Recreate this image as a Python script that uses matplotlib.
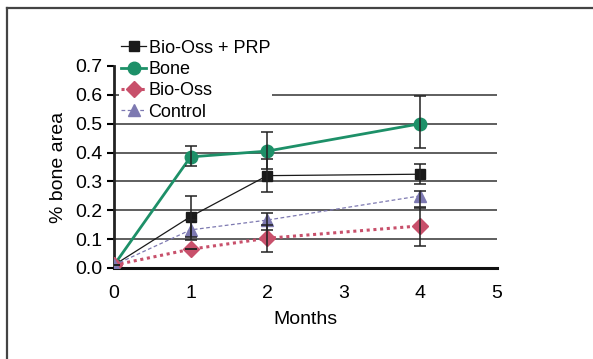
import matplotlib.pyplot as plt
from matplotlib.lines import Line2D

months = [0, 1, 2, 4]

bone = [0.01, 0.385, 0.405, 0.50]
bone_lo = [0, 0.03, 0.062, 0.083]
bone_hi = [0, 0.038, 0.067, 0.096]

bio_prp = [0.01, 0.178, 0.32, 0.325]
bio_prp_lo = [0, 0.07, 0.056, 0.033]
bio_prp_hi = [0, 0.072, 0.056, 0.037]

bio_oss = [0.01, 0.065, 0.103, 0.146]
bio_oss_lo = [0, 0, 0.049, 0.069]
bio_oss_hi = [0, 0, 0.045, 0.062]

control = [0.01, 0.132, 0.166, 0.25]
control_lo = [0, 0.035, 0.035, 0.04]
control_hi = [0, 0.035, 0.024, 0.017]

y_ticks = [0.0, 0.1, 0.2, 0.3, 0.4, 0.5, 0.6, 0.7]
x_ticks = [0, 1, 2, 3, 4, 5]

plt.rcParams['font.family'] = ['Liberation Sans', 'DejaVu Sans']

fig = plt.figure(figsize=(5.93, 3.59), dpi=100)
ax = fig.add_axes([0.1922, 0.2535, 0.6458, 0.5627])

# grid lines except the top one
for y in y_ticks[1:-1]:
    ax.axhline(y, color="#333333", lw=1.1, zorder=1)

green = "#1d9068"
pink = "#c8506b"
purple = "#7d79b1"
black = "#1a1a1a"

series = [
    ("Bio-Oss + PRP", bio_prp, bio_prp_lo, bio_prp_hi,
     dict(color=black, lw=0.9, ls="-", marker="s", ms=7)),
    ("Bone", bone, bone_lo, bone_hi,
     dict(color=green, lw=2.0, ls="-", marker="o", ms=9)),
    ("Bio-Oss", bio_oss, bio_oss_lo, bio_oss_hi,
     dict(color=pink, lw=2.2, ls=(0, (1, 1.2)), marker="D", ms=8)),
    ("Control", control, control_lo, control_hi,
     dict(color=purple, lw=0.9, ls=(0, (3, 2)), marker="^", ms=9)),
]

for label, vals, lo, hi, style in series:
    ax.plot(months, vals, label=label, zorder=3, **style)
    ax.errorbar(months, vals, yerr=[lo, hi], fmt="none", ecolor="#222222",
                elinewidth=1.1, capsize=4.3, capthick=1.1, zorder=4)

ax.set_xlim(0, 5)
ax.set_ylim(0, 0.7)
ax.set_xticks(x_ticks)
ax.set_yticks(y_ticks)
ax.set_yticklabels([f"{v:.1f}" for v in y_ticks])
ax.tick_params(axis="y", direction="out", length=5, width=1.5, labelsize=14, pad=3)
ax.tick_params(axis="x", length=0, labelsize=14, pad=12)

for s in ["top", "right"]:
    ax.spines[s].set_visible(False)
ax.spines["left"].set_linewidth(2)
ax.spines["left"].set_color("#222222")
ax.spines["bottom"].set_linewidth(2.2)
ax.spines["bottom"].set_color("#111111")

ax.set_xlabel("Months", fontsize=14, labelpad=7)
ax.set_ylabel("% bone area", fontsize=14, labelpad=6)

leg = ax.legend(loc="upper left", bbox_to_anchor=(0.014, 1.14), frameon=True,
                fontsize=13, handlelength=1.4, handletextpad=0.12,
                labelspacing=0.24, borderpad=0.1, borderaxespad=0.0)
leg.get_frame().set_facecolor("white")
leg.get_frame().set_edgecolor("none")
leg.get_frame().set_alpha(1)
leg.set_zorder(5)

# figure frame: left and top edges
fig.add_artist(Line2D([7 / 593, 7 / 593], [0, 1 - 8 / 359], transform=fig.transFigure,
                      color="#444444", lw=1.6))
fig.add_artist(Line2D([7 / 593, 1], [1 - 8 / 359, 1 - 8 / 359], transform=fig.transFigure,
                      color="#444444", lw=1.6))

fig.savefig("out.png", dpi=100)
